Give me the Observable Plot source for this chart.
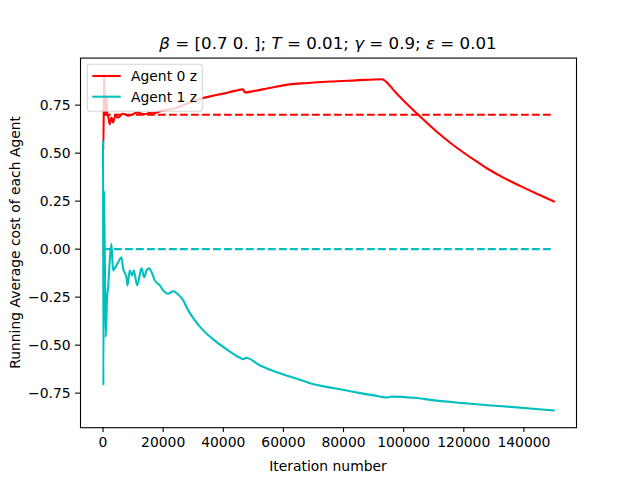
<!DOCTYPE html>
<html><head><meta charset="utf-8">
<script src="https://cdn.jsdelivr.net/npm/d3@7"></script>
<script src="https://cdn.jsdelivr.net/npm/@observablehq/plot@0.6"></script>
<style>
body{margin:0;background:#fff}
#chart{width:640px;height:480px}
svg text{white-space:pre}
</style>
</head><body><div id="chart"></div>
<script>
// ---- data ----
const agent0Iter = [0,120,330,600,800,1130,1400,1670,2230,2800,3330,4130,4800,5570,6400,7230,8300,9470,10500,11670,12800,13900,15300,16670,18000,19470,21000,22800,24500,26130,27800,29470,31000,32800,36000,40000,43500,46600,47200,50000,55000,62000,68000,75500,84000,92800,93500,96667,98300,100000,105000,111133,116667,122233,127800,133333,138900,144467,150000];
const agent0Cost = [0.55,0.52,0.91,0.70,0.72,0.80,0.70,0.695,0.651,0.686,0.660,0.698,0.685,0.691,0.705,0.703,0.695,0.698,0.708,0.712,0.705,0.703,0.709,0.708,0.712,0.721,0.725,0.729,0.737,0.747,0.757,0.768,0.777,0.785,0.797,0.810,0.823,0.832,0.816,0.823,0.838,0.858,0.865,0.873,0.879,0.885,0.880,0.828,0.800,0.773,0.698,0.610,0.540,0.478,0.420,0.371,0.328,0.287,0.248];

const agent1Iter = [0,100,330,900,1344,1678,2200,2789,3344,3900,4456,5344,6122,6678,7789,8122,8900,9678,10233,11344,12789,13678,14456,15233,15900,17233,18900,20000,21667,23333,25000,26667,28333,30000,33333,36667,41133,45567,46667,47567,52233,57800,64467,68900,77000,85570,92000,94500,96000,103330,111000,120000,128000,136670,143000,150000];
const agent1Cost = [0.56,-0.71,0.305,-0.458,-0.25,-0.198,-0.07,0.028,-0.111,-0.10,-0.085,-0.059,-0.042,-0.10,-0.146,-0.189,-0.111,-0.137,-0.111,-0.189,-0.10,-0.146,-0.111,-0.10,-0.111,-0.163,-0.189,-0.215,-0.232,-0.219,-0.236,-0.267,-0.319,-0.359,-0.423,-0.470,-0.522,-0.566,-0.573,-0.566,-0.606,-0.641,-0.675,-0.698,-0.725,-0.750,-0.767,-0.773,-0.768,-0.774,-0.789,-0.802,-0.813,-0.823,-0.831,-0.840];

const seriesNames = ["Agent 0 z", "Agent 1 z"];
const seriesColors = ["#ff0000", "#00bfbf"];
const targets = [0.7, 0.0];
const xTicks = [0, 20000, 40000, 60000, 80000, 100000, 120000, 140000];
const yTicks = [-0.75, -0.5, -0.25, 0, 0.25, 0.5, 0.75];
const titleParts = [["β", true], [" = [0.7 0. ]; ", false], ["T", true], [" = 0.01; ", false], ["γ", true], [" = 0.9; ", false], ["ε", true], [" = 0.01", false]];
const xLabel = "Iteration number";
const yLabel = "Running Average cost of each Agent";

// ---- build tables ----
const rows = (iter, cost, s) => iter.map((x, i) => ({x, y: cost[i], s}));
const lineRows = [...rows(agent0Iter, agent0Cost, seriesNames[0]), ...rows(agent1Iter, agent1Cost, seriesNames[1])];
const xStart = agent0Iter[0], xEnd = agent0Iter[agent0Iter.length - 1];
const targetRows = seriesNames.flatMap((s, k) => [{x: xStart, y: targets[k], s}, {x: xEnd, y: targets[k], s}]);

const W = 640, H = 480, mL = 80, mR = 64, mT = 57.6, mB = 52.8;
const fmtY = d3.format(".2f");

const plot = Plot.plot({
  width: W, height: H,
  marginLeft: mL, marginRight: mR, marginTop: mT, marginBottom: mB,
  style: {fontFamily: "DejaVu Sans", fontSize: "13.9px", background: "white", color: "black"},
  x: {domain: [-7500, 157500]},
  y: {domain: [-0.93, 0.995]},
  color: {domain: seriesNames, range: seriesColors},
  marks: [
    Plot.line(targetRows, {x: "x", y: "y", z: "s", stroke: "s", strokeWidth: 2.08, strokeDasharray: "7.7,3.3", strokeLinecap: "butt"}),
    Plot.line(lineRows, {x: "x", y: "y", z: "s", stroke: "s", strokeWidth: 2.08, strokeLinejoin: "round", curve: "monotone-x"}),
    Plot.frame({stroke: "black", strokeWidth: 1.1}),
    Plot.axisX({ticks: xTicks, tickFormat: d => String(d), tickSize: 4.9, tickPadding: 4.9, label: null, strokeWidth: 1.1}),
    Plot.axisY({ticks: yTicks, tickFormat: d => fmtY(d), tickSize: 4.9, tickPadding: 4.9, label: null, strokeWidth: 1.1})
  ]
});

const svg = d3.select(plot);
const cx = mL + (W - mL - mR) / 2;
const cy = mT + (H - mT - mB) / 2;

svg.append("text").attr("x", cx).attr("y", 471).attr("text-anchor", "middle").attr("fill", "black").text(xLabel);
svg.append("text").attr("transform", `translate(20.4,${cy}) rotate(-90)`).attr("text-anchor", "middle").attr("fill", "black").text(yLabel);

const t = svg.append("text").attr("x", cx).attr("y", 49).attr("text-anchor", "middle").attr("fill", "black").style("font-size", "16.67px");
titleParts.forEach(([s, it]) => t.append("tspan").attr("font-style", it ? "italic" : null).text(s));

// legend
const lg = svg.append("g");
lg.append("rect").attr("x", 87.3).attr("y", 64.3).attr("width", 115).attr("height", 47).attr("rx", 2.8)
  .attr("fill", "white").attr("fill-opacity", 0.8).attr("stroke", "#cccccc").attr("stroke-opacity", 0.8).attr("stroke-width", 1.1);
seriesNames.forEach((n, i) => {
  const ly = 76 + i * 20.7;
  lg.append("line").attr("x1", 92.3).attr("x2", 120.7).attr("y1", ly).attr("y2", ly)
    .attr("stroke", seriesColors[i]).attr("stroke-width", 2.08);
  lg.append("text").attr("x", 131).attr("y", ly + 5).attr("text-anchor", "start").attr("fill", "black").text(n);
});

document.getElementById("chart").appendChild(plot);
</script>
</body></html>
